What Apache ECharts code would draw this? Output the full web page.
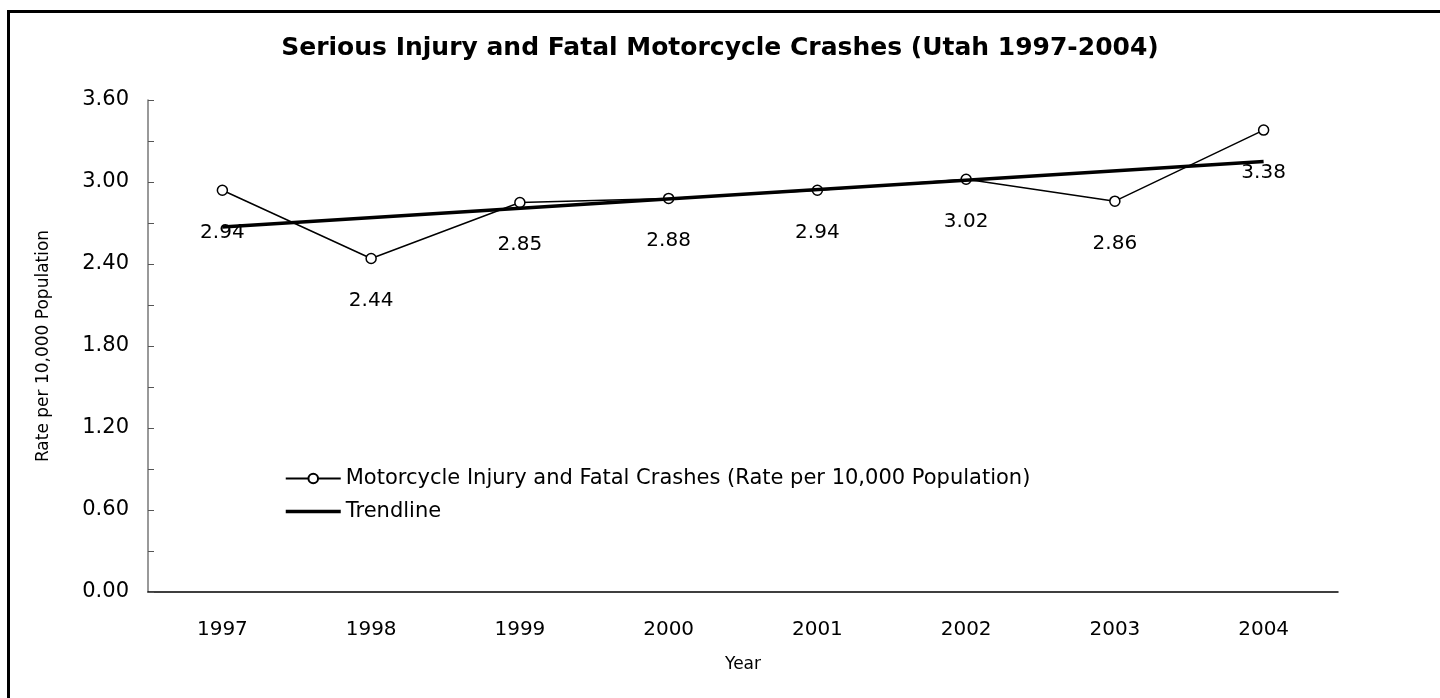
<!DOCTYPE html>
<html>
<head>
    <meta charset="utf-8">
    <script src="https://cdn.jsdelivr.net/npm/echarts@6/dist/echarts.min.js"></script>
    <style>
        html, body { margin: 0; padding: 0; background: #fff; }
        #chart { width: 1440px; height: 698px; }
    </style>
</head>
<body>
<div id="chart"></div>
<script type="text/javascript">
    // data
    var years = ['1997', '1998', '1999', '2000', '2001', '2002', '2003', '2004'];
    var crashRate = [2.94, 2.44, 2.85, 2.88, 2.94, 3.02, 2.86, 3.38];
    var trendPoints = [['1997', 2.67], ['2004', 3.15]];   // end points of the fitted line

    var FONT = 'DejaVu Sans';
    var SERIES_NAME = 'Motorcycle Injury and Fatal Crashes (Rate per 10,000 Population)';

    var option = {
        backgroundColor: '#fff',
        textStyle: { fontFamily: FONT, color: '#000' },
        title: {
            text: 'Serious Injury and Fatal Motorcycle Crashes (Utah 1997-2004)',
            left: 'center',
            top: 31,
            textStyle: { fontFamily: FONT, fontSize: 25, fontWeight: 'bold', color: '#000' }
        },
        legend: {
            orient: 'vertical',
            left: 279,
            top: 463,
            itemWidth: 55,
            itemHeight: 12,
            itemGap: 12,
            textStyle: { fontFamily: FONT, fontSize: 21, color: '#000' },
            data: [
                { name: SERIES_NAME },
                { name: 'Trendline', itemStyle: { opacity: 0 }, lineStyle: { width: 3.5, color: '#000' } }
            ]
        },
        grid: { left: 148, right: 102, top: 100, bottom: 106 },
        xAxis: {
            type: 'category',
            data: years,
            name: 'Year',
            nameLocation: 'middle',
            nameGap: 64,
            nameTextStyle: { fontSize: 17, color: '#000' },
            axisLine: { lineStyle: { color: '#000', width: 1.5 } },
            axisTick: { inside: true, length: 7, lineStyle: { color: '#555' } },
            axisLabel: { fontSize: 20, color: '#000', margin: 28 },
            splitLine: { show: false }
        },
        yAxis: {
            type: 'value',
            min: 0,
            max: 3.6,
            interval: 0.6,
            name: 'Rate per 10,000 Population',
            nameLocation: 'middle',
            nameGap: 96,
            nameTextStyle: { fontSize: 17, color: '#000' },
            axisLine: { show: true, lineStyle: { color: '#777', width: 1.5 } },
            axisTick: { show: true, inside: true, length: 6, lineStyle: { color: '#555' } },
            minorTick: { show: true, splitNumber: 2, length: 6, lineStyle: { color: '#555' } },
            axisLabel: {
                fontSize: 21, color: '#000', margin: 19,
                formatter: function (v) { return v.toFixed(2); }
            },
            splitLine: { show: false }
        },
        series: [
            {
                name: SERIES_NAME,
                type: 'line',
                data: crashRate,
                symbol: 'circle',
                symbolSize: 10,
                itemStyle: { color: '#fff', borderColor: '#000', borderWidth: 1.5 },
                lineStyle: { color: '#000', width: 1.5 },
                label: {
                    show: true,
                    position: 'bottom',
                    distance: 27,
                    fontSize: 20,
                    color: '#000',
                    formatter: function (p) { return p.value.toFixed(2); }
                },
                z: 2
            },
            {
                name: 'Trendline',
                type: 'line',
                data: trendPoints,
                symbol: 'none',
                lineStyle: { color: '#000', width: 3.5 },
                itemStyle: { color: '#000' },
                z: 3
            }
        ],
        graphic: [
            {
                type: 'rect',
                shape: { x: 8.5, y: 11.5, width: 1460, height: 720 },
                style: { fill: null, stroke: '#000', lineWidth: 3 },
                silent: true
            }
        ]
    };

    var chart = echarts.init(document.getElementById('chart'));
    chart.setOption(option);
</script>
</body>
</html>
